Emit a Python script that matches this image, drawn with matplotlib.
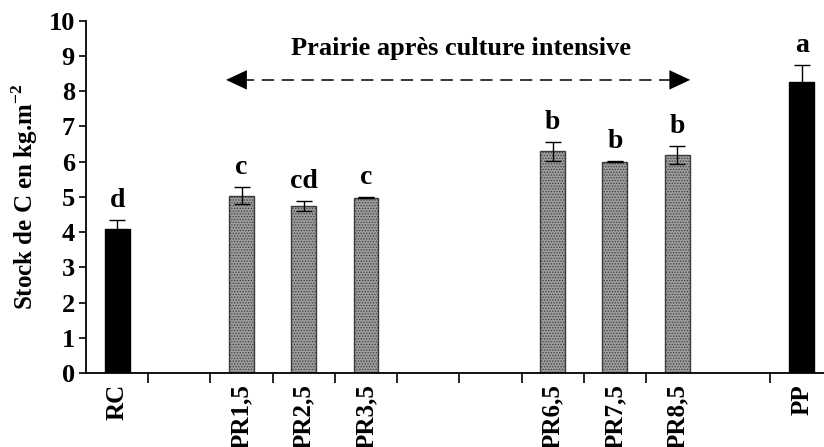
import numpy as np
import matplotlib
matplotlib.use("Agg")
import matplotlib.pyplot as plt

# data
categories = ["RC", "", "PR1,5", "PR2,5", "PR3,5", "", "",
              "PR6,5", "PR7,5", "PR8,5", "", "PP"]
values = [4.10, np.nan, 5.03, 4.74, 4.98, np.nan, np.nan,
          6.29, 6.00, 6.18, np.nan, 8.27]
errors = [0.25, np.nan, 0.24, 0.14, 0.02, np.nan, np.nan,
          0.28, 0.02, 0.26, np.nan, 0.48]
letters = ["d", "", "c", "cd", "c", "", "", "b", "b", "b", "", "a"]
kinds = ["ref", "", "pr", "pr", "pr", "", "", "pr", "pr", "pr", "", "ref"]

plt.rcParams["font.family"] = ["Liberation Serif", "DejaVu Serif"]
plt.rcParams["font.weight"] = "bold"
plt.rcParams["mathtext.fontset"] = "custom"
plt.rcParams["mathtext.rm"] = "Liberation Serif:bold"
plt.rcParams["mathtext.bf"] = "Liberation Serif:bold"
plt.rcParams["hatch.linewidth"] = 0.6
plt.rcParams["hatch.color"] = "#5a5a5a"

fig = plt.figure(figsize=(8.24, 4.47), dpi=100)
ax = fig.add_axes([0.1044, 0.1655, 1 - 0.1044, 0.7882])

x = np.arange(len(categories))
for i, (v, e, k) in enumerate(zip(values, errors, kinds)):
    if np.isnan(v):
        continue
    if k == "ref":
        ax.bar(i, v, width=0.4, color="black", edgecolor="black",
               linewidth=1, zorder=2)
    else:
        ax.bar(i, v, width=0.4, color="#9c9c9c", edgecolor="#3c3c3c",
               hatch="......", linewidth=1, zorder=2)
    ax.errorbar(i, v, yerr=e, fmt="none", ecolor="black", elinewidth=1,
                capsize=6, capthick=1, zorder=3)
    ax.text(i, v + e + 0.55, letters[i], ha="center", va="center",
            fontsize=20, fontweight="bold")

# dashed double arrow and its caption
ax.plot([2.0, 8.95], [8.32, 8.32], color="black", lw=1.1,
        dashes=(8, 5), zorder=3)
for tip, tail in [(1.75, 2.2), (9.21, 8.76)]:
    ax.annotate("", xy=(tip, 8.32), xytext=(tail, 8.32),
                arrowprops=dict(arrowstyle="-|>,head_length=1.5,head_width=0.7",
                                color="black", lw=0, shrinkA=0, shrinkB=0))
ax.text(5.53, 9.2, "Prairie après culture intensive", ha="center",
        va="center", fontsize=19, fontweight="bold")

ax.set_xlim(-0.5, 11.36)
ax.set_ylim(0, 10)
ax.set_yticks(range(0, 11))
ax.tick_params(axis="y", labelsize=19, direction="out", length=5,
               width=1.2, pad=3)
ax.set_xticks(x)
ax.set_xticklabels(categories, rotation=90, fontsize=18, fontweight="bold")
ax.tick_params(axis="x", which="major", length=0, pad=8)
bounds = [k - 0.5 for k in range(1, 12) if k != 10]
ax.set_xticks(bounds, minor=True)
ax.tick_params(axis="x", which="minor", direction="out", length=7, width=1.2)

ax.set_ylabel(r"Stock de C en kg.m$^{-2}$", fontsize=18, fontweight="bold",
              labelpad=6)

for side in ("top", "right"):
    ax.spines[side].set_visible(False)
for side in ("left", "bottom"):
    ax.spines[side].set_linewidth(1.3)

fig.savefig("out.png", dpi=100)
